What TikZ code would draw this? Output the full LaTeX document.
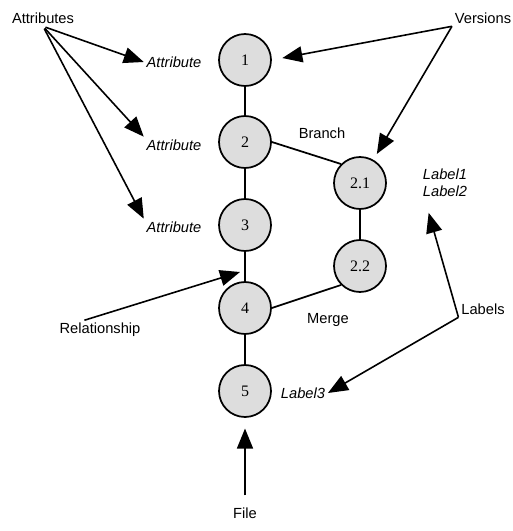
\documentclass[tikz,border=0pt]{standalone}
\usepackage{fontspec}
\setmainfont{Liberation Serif}
\setsansfont{Liberation Sans}
\usetikzlibrary{calc, arrows.meta, positioning}
\definecolor{VersionGray}{RGB}{221, 221, 221}
\definecolor{InkBlack}{RGB}{0, 0, 0}
\tikzset{
  version/.style={circle, draw=InkBlack, line width=1.3pt, fill=VersionGray, minimum size=39pt, inner sep=0pt, font=\fontsize{12}{14}\selectfont},
  caption/.style={font=\sffamily\fontsize{11}{13}\selectfont, inner sep=2pt},
  tag/.style={caption, font=\sffamily\itshape\fontsize{11}{13}\selectfont},
  pointer/.style={draw=InkBlack, line width=1.2pt, -{Triangle[length=15pt, width=12pt]}},
  link/.style={draw=InkBlack, line width=1.3pt},
}

\begin{document}
\begin{tikzpicture}[x=0.75pt, y=-0.75pt]
\useasboundingbox (0,0) rectangle (513,531);

% version tree
\node[version] (v1) at (245,60) {1};
\node[version] (v2) at (245,142) {2};
\node[version] (v3) at (245,225) {3};
\node[version] (v4) at (245,308) {4};
\node[version] (v5) at (245,391) {5};
\node[version] (v21) at (360,183) {2.1};
\node[version] (v22) at (360,266) {2.2};

\draw[link] (v1) -- (v2);
\draw[link] (v2) -- (v3);
\draw[link] (v3) -- (v4);
\draw[link] (v4) -- (v5);
\draw[link] (v21) -- (v22);
\draw[link] (v2.east) -- (v21.135);
\draw[link] (v22.225) -- (v4.east);

% texts
\node[caption] (attrs) at (43,18) {Attributes};
\node[tag] (a1) at (174,62) {Attribute};
\node[tag] (a2) at (174,145) {Attribute};
\node[tag] (a3) at (174,227) {Attribute};
\node[caption] (vers) at (483,18) {Versions};
\node[caption] (branch) at (322,133) {Branch};
\node[caption] (merge) at (328,320) {Merge};
\node[tag, align=left, anchor=west] (lbl12) at (420,183) {Label1\\Label2};
\node[caption] (rel) at (100,330) {Relationship};
\node[caption] (labs) at (483,309) {Labels};
\node[tag] (lbl3) at (303,393) {Label3};
\node[caption] (file) at (245,513) {File};
\coordinate (relpt) at (240,272);

% pointers
\draw[pointer, shorten <=2pt] (attrs.south) -- (a1.west);
\draw[pointer, shorten <=2pt] (attrs.south) -- (a2.north west);
\draw[pointer, shorten <=2pt] (attrs.south) -- (a3.north west);
\draw[pointer, shorten >=8pt] (vers.south west) -- (v1.east);
\draw[pointer, shorten >=5pt] (vers.south west) -- (v21.60);
\draw[pointer] ($(rel.north west)!0.32!(rel.north east)$) -- (relpt);
\draw[pointer, shorten >=10pt] (labs.south west) -- ($(lbl12.south west)!0.2!(lbl12.south)$);
\draw[pointer] (labs.south west) -- (lbl3.east);
\draw[pointer, shorten <=7pt, shorten >=8pt] (file.north) -- (v5.south);
\end{tikzpicture}
\end{document}
